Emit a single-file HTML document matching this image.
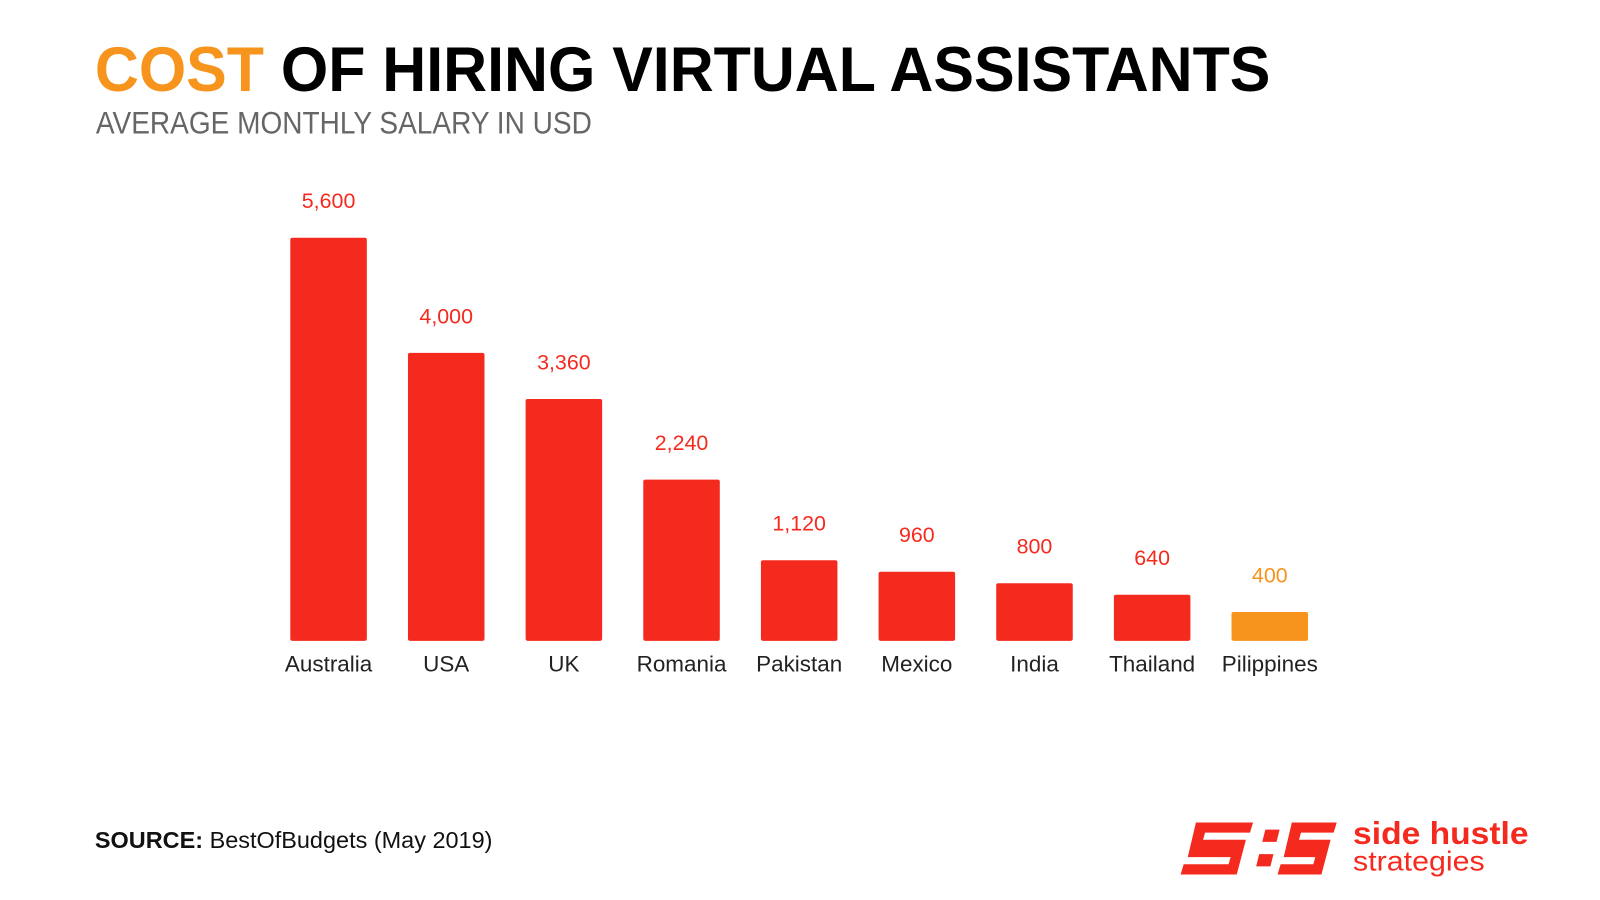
<!DOCTYPE html>
<html><head><meta charset="utf-8"><style>
html,body{margin:0;padding:0;background:#fff;}
svg{display:block;font-family:"Liberation Sans",sans-serif;}
</style></head><body>
<svg id="chart" width="1600" height="900" viewBox="0 0 1568 882" preserveAspectRatio="none" xmlns="http://www.w3.org/2000/svg">
<text x="93" y="89" font-size="62" font-weight="bold" textLength="1152" lengthAdjust="spacingAndGlyphs"><tspan fill="#f7941d">COST</tspan> <tspan fill="#000">OF HIRING VIRTUAL ASSISTANTS</tspan></text>
<text x="94" y="131" font-size="31" fill="#666" textLength="486" lengthAdjust="spacingAndGlyphs">AVERAGE MONTHLY SALARY IN USD</text>
<g id="bars"></g>
<text x="93" y="831" font-size="23" fill="#111"><tspan font-weight="bold">SOURCE:</tspan> BestOfBudgets (May 2019)</text>
<g>
<g fill="#f52a1f">
<polygon points="1172,806 1228,806 1225,816 1181,816 1179,823 1221,823 1212,857 1157,857 1160,847 1204,847 1206,840 1164,840"/>
<polygon points="1240,813 1254,813 1251,825 1237,825"/>
<polygon points="1234,837 1248,837 1245,849 1231,849"/>
<polygon points="1266,806 1310,806 1307,816 1275,816 1273,823 1304,823 1295,857 1252,857 1255,847 1287,847 1289,840 1258,840"/>
</g>
<text x="1326" y="827" font-size="31" font-weight="bold" fill="#f52a1f" textLength="172" lengthAdjust="spacingAndGlyphs">side hustle</text>
<text x="1326" y="853" font-size="27" fill="#f52a1f" textLength="129" lengthAdjust="spacingAndGlyphs">strategies</text>
</g>
</svg>
<script>
const categories = ["Australia","USA","UK","Romania","Pakistan","Mexico","India","Thailand","Pilippines"];
const values = [5600,4000,3360,2240,1120,960,800,640,400];
const valueLabels = ["5,600","4,000","3,360","2,240","1,120","960","800","640","400"];
const highlight = [false,false,false,false,false,false,false,false,true];

const baseY = 628, pxPerUnit = 395/5600;
const x0 = 322, step = 115.3, bw = 75;
const yScale = v => baseY - v*pxPerUnit;
const xScale = i => x0 + i*step;
const NS = "http://www.w3.org/2000/svg";
const g = document.getElementById('bars');
categories.forEach((c,i)=>{
  const color = highlight[i] ? "#f7941d" : "#f52a1f";
  const cx = xScale(i), top = yScale(values[i]);
  const r = document.createElementNS(NS,'rect');
  
  
  r.setAttribute('x', cx - bw/2); r.setAttribute('y', top);
  r.setAttribute('width', bw); r.setAttribute('height', baseY - top);
  r.setAttribute('rx', 2); r.setAttribute('fill', color);
  g.appendChild(r);
  const v = document.createElementNS(NS,'text');
  
  
  v.setAttribute('x', cx); v.setAttribute('y', top - 29);
  v.setAttribute('text-anchor','middle'); v.setAttribute('font-size','21');
  v.setAttribute('fill', color);
  v.textContent = valueLabels[i];
  g.appendChild(v);
  const t = document.createElementNS(NS,'text');
  
  
  t.setAttribute('x', cx); t.setAttribute('y', 658);
  t.setAttribute('text-anchor','middle'); t.setAttribute('font-size','22');
  t.setAttribute('fill', '#222');
  t.textContent = c;
  g.appendChild(t);
});
</script>
</body></html>
